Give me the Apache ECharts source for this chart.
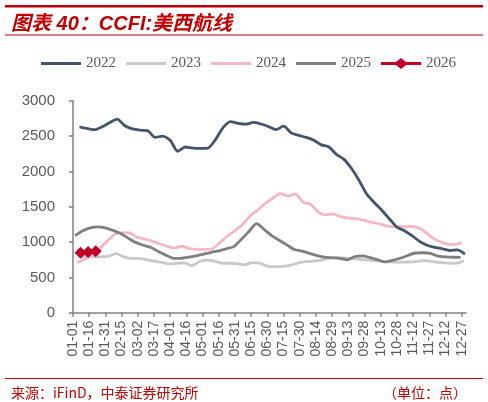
<!DOCTYPE html>
<html>
<head>
<meta charset="utf-8">
<script src="https://cdn.jsdelivr.net/npm/echarts@6/dist/echarts.min.js"></script>
<style>
  html, body { margin: 0; padding: 0; background: #fff; }
  #chart { width: 488px; height: 402px; }
</style>
</head>
<body>
<div id="chart"></div>
<script>
// weekly CCFI US West Coast index (points)
const v2022 = [2628, 2608, 2590, 2630, 2690, 2740, 2645, 2600, 2583, 2576, 2480, 2500, 2440,
  2285, 2345, 2330, 2326, 2330, 2450, 2620, 2705, 2680, 2668, 2692, 2670, 2635, 2590,
  2640, 2545, 2510, 2480, 2440, 2375, 2345, 2240, 2170, 2040, 1870, 1680, 1560, 1450,
  1330, 1210, 1160, 1090, 1010, 955, 925, 905, 880, 890, 830];
const v2023 = [810, 800, 795, 790, 800, 835, 790, 770, 770, 750, 730, 712, 690,
  700, 705, 665, 725, 745, 730, 700, 700, 695, 678, 710, 700, 660, 650,
  655, 668, 700, 722, 730, 740, 765, 780, 775, 770, 760, 748, 740, 726,
  720, 715, 715, 718, 730, 735, 722, 710, 702, 700, 736];
const v2024 = [708, 760, 820, 910, 1020, 1110, 1132, 1125, 1070, 1045, 1015, 975, 940,
  915, 940, 905, 897, 897, 905, 990, 1085, 1160, 1245, 1370, 1450, 1545, 1620,
  1685, 1650, 1680, 1565, 1535, 1425, 1385, 1395, 1360, 1340, 1330, 1310, 1280, 1262,
  1230, 1215, 1217, 1222, 1210, 1160, 1070, 1010, 975, 965, 992];
const v2025 = [1090, 1160, 1200, 1215, 1200, 1165, 1120, 1055, 995, 955, 925, 865, 815,
  770, 770, 785, 805, 830, 855, 875, 905, 935, 1040, 1150, 1260, 1180, 1090,
  1025, 960, 895, 870, 840, 808, 785, 777, 770, 748, 795, 805, 780, 750,
  718, 740, 770, 810, 845, 848, 840, 800, 790, 785, 784];
const v2026 = [848, 860, 870];

// first release day of each year (month, day); releases are weekly after it
const firstRelease = { 2022: [1, 7], 2023: [1, 6], 2024: [1, 5], 2025: [1, 3], 2026: [1, 8] };
const years = ['2022', '2023', '2024', '2025', '2026'];
const colors = ['#44546A', '#C9C9C9', '#F4B8C4', '#7F7F7F', '#C0002A'];

const pad = n => String(n).padStart(2, '0');

// x axis: every day of a (non-leap) year as MM-DD
const days = [];
for (let d = new Date(Date.UTC(2023, 0, 1)); d.getUTCFullYear() === 2023; d.setUTCDate(d.getUTCDate() + 1)) {
  days.push(pad(d.getUTCMonth() + 1) + '-' + pad(d.getUTCDate()));
}

function weekly(year, values) {
  const [m, dd] = firstRelease[year];
  const d = new Date(Date.UTC(+year, m - 1, dd));
  return values.map(v => {
    const item = [pad(d.getUTCMonth() + 1) + '-' + pad(d.getUTCDate()), v];
    d.setUTCDate(d.getUTCDate() + 7);
    return item;
  });
}

const values = { 2022: v2022, 2023: v2023, 2024: v2024, 2025: v2025, 2026: v2026 };

const chart = echarts.init(document.getElementById('chart'));

const red = '#C00000';
const lineIcon = 'path://M0,5.6H40V8.4H0Z';
const diamondIcon = 'path://M0,5.6H15L20,1.5L25,5.6H40V8.4H25L20,12.5L15,8.4H0Z';

chart.setOption({
  animation: false,
  backgroundColor: '#fff',
  title: [
    {
      text: '图表 40：CCFI:美西航线',
      left: 6, top: 9,
      textStyle: {
        color: red, fontSize: 20, fontWeight: 'bold', fontStyle: 'italic',
        fontFamily: 'Liberation Sans, Noto Sans CJK SC'
      }
    },
    {
      text: '来源：iFinD，中泰证券研究所',
      left: 6, top: 381,
      textStyle: { color: red, fontSize: 14, fontWeight: 'normal', fontFamily: 'Noto Sans CJK SC' }
    },
    {
      text: '（单位：点）',
      right: 16, top: 381,
      textStyle: { color: red, fontSize: 14, fontWeight: 'normal', fontFamily: 'Noto Sans CJK SC' }
    }
  ],
  graphic: [
    { type: 'rect', shape: { x: 5, y: 5, width: 478, height: 2.5 }, style: { fill: red } },
    { type: 'rect', shape: { x: 5, y: 34.5, width: 478, height: 1 }, style: { fill: red } },
    { type: 'rect', shape: { x: 5, y: 378, width: 478, height: 1 }, style: { fill: red } }
  ],
  legend: {
    left: 41, top: 56, padding: 0,
    itemWidth: 40, itemHeight: 14, itemGap: 10,
    textStyle: { color: '#595959', fontSize: 15, fontFamily: 'Liberation Serif' },
    data: years.map(y => ({ name: y, icon: y === '2026' ? diamondIcon : lineIcon }))
  },
  grid: { left: 73, right: 22, top: 100.7, bottom: 89.3 },
  xAxis: {
    type: 'category',
    data: days,
    boundaryGap: false,
    axisLine: { lineStyle: { color: '#808080', width: 1.5 } },
    axisTick: { interval: 14, length: 4, lineStyle: { color: '#808080', width: 1.5 } },
    axisLabel: {
      interval: 14, rotate: 90, margin: 8,
      color: '#595959', fontSize: 14, fontFamily: 'Liberation Sans'
    }
  },
  yAxis: {
    type: 'value',
    min: 0, max: 3000, interval: 500,
    axisLine: { show: true, lineStyle: { color: '#808080', width: 1.5 } },
    axisTick: { show: true, length: 4, lineStyle: { color: '#808080', width: 1.5 } },
    axisLabel: {
      margin: 18, color: '#595959', fontSize: 15, fontFamily: 'Liberation Sans',
      formatter: v => String(v)
    },
    splitLine: { show: false }
  },
  series: years.map((y, i) => {
    const last = y === '2026';
    return {
      name: y,
      type: 'line',
      data: weekly(y, values[y]),
      smooth: 0.25,
      symbol: last ? 'diamond' : 'none',
      symbolSize: 12,
      showAllSymbol: true,
      z: last ? 5 : (i === 0 ? 4 : 2),
      itemStyle: { color: colors[i] },
      lineStyle: { color: colors[i], width: 2.8 }
    };
  })
});
</script>
</body>
</html>
